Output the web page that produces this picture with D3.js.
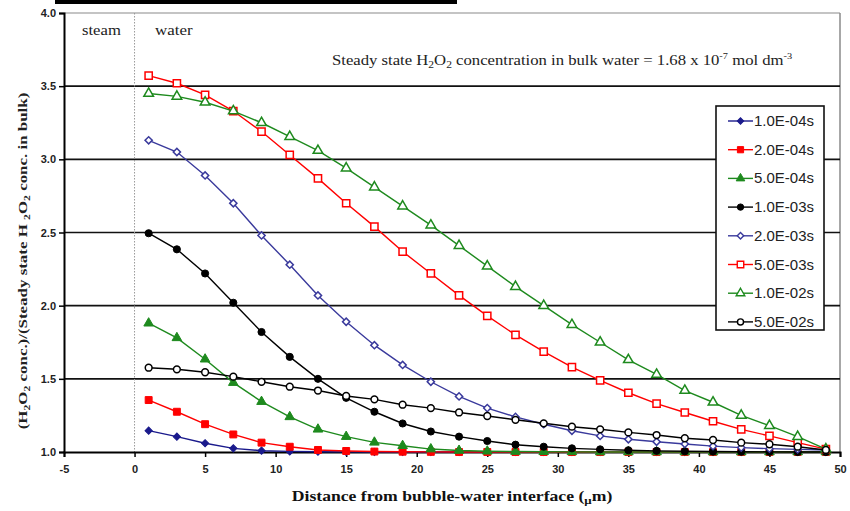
<!DOCTYPE html>
<html>
<head>
<meta charset="utf-8">
<script src="https://cdn.jsdelivr.net/npm/d3@7"></script>
<style>
  html, body { margin: 0; padding: 0; background: #fff; }
  svg { display: block; }
</style>
</head>
<body>
<svg id="chart" width="850" height="511"></svg>
<script>
// Distance from the bubble-water interface (µm), sampled every 2 µm
const distances = [1, 3, 5, 7, 9, 11, 13, 15, 17, 19, 21, 23, 25, 27, 29, 31, 33, 35, 37, 39, 41, 43, 45, 47, 49];

// Normalised H2O2 concentration profiles, one per elapsed time
const s1e4 = [1.146, 1.105, 1.060, 1.025, 1.009, 1.004, 1.002, 1.001, 1.0, 1.0, 1.0, 1.0, 1.0, 1.0, 1.0, 1.0, 1.0, 1.0, 1.0, 1.0, 1.0, 1.0, 1.0, 1.0, 1.0];
const s2e4 = [1.355, 1.275, 1.190, 1.120, 1.064, 1.036, 1.014, 1.007, 1.003, 1.002, 1.001, 1.0, 1.0, 1.0, 1.0, 1.0, 1.0, 1.0, 1.0, 1.0, 1.0, 1.0, 1.0, 1.0, 1.0];
const s5e4 = [1.880, 1.780, 1.634, 1.474, 1.344, 1.240, 1.155, 1.105, 1.066, 1.043, 1.020, 1.010, 1.005, 1.003, 1.002, 1.001, 1.0, 1.0, 1.0, 1.0, 1.0, 1.0, 1.0, 1.0, 1.0];
const s1e3 = [2.495, 2.385, 2.220, 2.020, 1.820, 1.650, 1.500, 1.370, 1.275, 1.195, 1.140, 1.105, 1.075, 1.050, 1.036, 1.025, 1.018, 1.012, 1.008, 1.005, 1.003, 1.002, 1.001, 1.0, 1.0];
const s2e3 = [3.130, 3.050, 2.890, 2.700, 2.480, 2.280, 2.070, 1.890, 1.730, 1.595, 1.480, 1.380, 1.300, 1.240, 1.190, 1.145, 1.110, 1.087, 1.070, 1.055, 1.040, 1.030, 1.023, 1.018, 1.014];
const s5e3 = [3.572, 3.520, 3.440, 3.330, 3.190, 3.030, 2.870, 2.700, 2.540, 2.370, 2.220, 2.070, 1.930, 1.800, 1.686, 1.580, 1.490, 1.405, 1.330, 1.270, 1.210, 1.155, 1.110, 1.064, 1.020];
const s1e2 = [3.450, 3.430, 3.390, 3.330, 3.250, 3.155, 3.060, 2.940, 2.810, 2.680, 2.550, 2.410, 2.270, 2.130, 2.000, 1.870, 1.750, 1.630, 1.530, 1.420, 1.340, 1.250, 1.180, 1.105, 1.020];
const s5e2 = [1.576, 1.565, 1.545, 1.515, 1.480, 1.446, 1.420, 1.383, 1.360, 1.323, 1.300, 1.270, 1.246, 1.220, 1.196, 1.173, 1.155, 1.134, 1.116, 1.094, 1.082, 1.064, 1.053, 1.036, 1.014];

const seriesNames = ["1.0E-04s", "2.0E-04s", "5.0E-04s", "1.0E-03s", "2.0E-03s", "5.0E-03s", "1.0E-02s", "5.0E-02s"];
const seriesValues = [s1e4, s2e4, s5e4, s1e3, s2e3, s5e3, s1e2, s5e2];

const xTicks = [-5, 0, 5, 10, 15, 20, 25, 30, 35, 40, 45, 50];
const yTicks = [1.0, 1.5, 2.0, 2.5, 3.0, 3.5, 4.0];

// Diamonds are drawn as squares turned by 45 degrees
const styles = [
  { color: "#1a1a8c", shape: d3.symbolSquare,  size: 26, rot: 45, open: false },
  { color: "#ff0000", shape: d3.symbolSquare,  size: 48, rot: 0,  open: false },
  { color: "#1e8a1e", shape: d3.symbolTriangle, size: 40, rot: 0, open: false },
  { color: "#000000", shape: d3.symbolCircle,  size: 40, rot: 0,  open: false },
  { color: "#3a3a9c", shape: d3.symbolSquare,  size: 26, rot: 45, open: true },
  { color: "#ff0000", shape: d3.symbolSquare,  size: 52, rot: 0,  open: true },
  { color: "#1e8a1e", shape: d3.symbolTriangle, size: 40, rot: 0, open: true },
  { color: "#000000", shape: d3.symbolCircle,  size: 36, rot: 0,  open: true }
];

const svg = d3.select("#chart");
const plot = { left: 64, right: 840, top: 13, bottom: 452 };

const x = d3.scaleLinear().domain([-5, 50]).range([plot.left, plot.right]);
const y = d3.scaleLinear().domain([1, 4]).range([plot.bottom, plot.top]);

// Stretch a text element horizontally so it spans the given width
function fitWidth(sel, width, base) {
  const w = sel.node().getBBox().width;
  sel.attr("transform", `${base} scale(${width / w},1)`);
}

// Caption rule along the top edge
svg.append("rect").attr("x", 55).attr("y", 0).attr("width", 402).attr("height", 4).attr("fill", "#000");

// Plot frame (top and right) in grey
svg.append("line").attr("x1", plot.left).attr("x2", plot.right).attr("y1", plot.top).attr("y2", plot.top)
  .attr("stroke", "#8a8a8a").attr("stroke-width", 1.2);
svg.append("line").attr("x1", plot.right).attr("x2", plot.right).attr("y1", plot.top).attr("y2", plot.bottom)
  .attr("stroke", "#8a8a8a").attr("stroke-width", 1.5);

// Horizontal gridlines
svg.append("g").selectAll("line")
  .data(yTicks.filter(t => t > 1 && t < 4))
  .join("line")
  .attr("x1", plot.left).attr("x2", plot.right)
  .attr("y1", d => y(d)).attr("y2", d => y(d))
  .attr("stroke", "#111").attr("stroke-width", 1.6);

// Steam / water boundary
svg.append("line").attr("x1", x(0)).attr("x2", x(0)).attr("y1", plot.top).attr("y2", plot.bottom)
  .attr("stroke", "#999").attr("stroke-width", 1).attr("stroke-dasharray", "1.5,1.5");

// Axes
const yAxis = d3.axisLeft(y).tickValues(yTicks).tickFormat(d3.format(".1f")).tickSize(5).tickPadding(3);
const xAxis = d3.axisBottom(x).tickValues(xTicks).tickFormat(d => String(d)).tickSize(5).tickPadding(8);

const gy = svg.append("g").attr("transform", `translate(${plot.left},0)`).call(yAxis);
const gx = svg.append("g").attr("transform", `translate(0,${plot.bottom})`).call(xAxis);
[gx, gy].forEach(g => {
  g.select(".domain").attr("stroke", "#000").attr("stroke-width", 2);
  g.selectAll(".tick line").attr("stroke", "#000").attr("stroke-width", 1.5);
  g.selectAll(".tick text").attr("fill", "#222")
    .style("font-family", "'Liberation Sans Narrow', 'Liberation Sans', Arial, sans-serif")
    .style("font-size", "11px").style("font-weight", "bold");
});

// Series lines and markers
const line = d3.line().x((d, i) => x(distances[i])).y(d => y(d));
seriesValues.forEach((vals, k) => {
  const st = styles[k];
  const g = svg.append("g");
  g.append("path").datum(vals).attr("d", line)
    .attr("fill", "none").attr("stroke", st.color).attr("stroke-width", 1.4);
  g.selectAll("path.m").data(vals).join("path").attr("class", "m")
    .attr("transform", (d, i) => `translate(${x(distances[i])},${y(d)}) rotate(${st.rot})`)
    .attr("d", d3.symbol().type(st.shape).size(st.size))
    .attr("fill", st.open ? "#fff" : st.color)
    .attr("stroke", st.color).attr("stroke-width", st.open ? 1.5 : 1);
});

// Region labels and bulk concentration note
const serif = "'Liberation Serif', 'Times New Roman', serif";
const steam = svg.append("text").attr("x", 0).attr("y", 0).text("steam")
  .style("font-family", serif).style("font-size", "14px").attr("fill", "#222");
fitWidth(steam, 39, "translate(82,35)");
const water = svg.append("text").attr("x", 0).attr("y", 0).text("water")
  .style("font-family", serif).style("font-size", "14px").attr("fill", "#222");
fitWidth(water, 38, "translate(155,35)");

const note = svg.append("text").attr("x", 0).attr("y", 0)
  .style("font-family", serif).style("font-size", "14.5px").attr("fill", "#222");
note.append("tspan").text("Steady state H");
note.append("tspan").text("2").attr("dy", 3).style("font-size", "10px");
note.append("tspan").text("O").attr("dy", -3);
note.append("tspan").text("2").attr("dy", 3).style("font-size", "10px");
note.append("tspan").text(" concentration in bulk water = 1.68 x 10").attr("dy", -3);
note.append("tspan").text("-7").attr("dy", -6).style("font-size", "9px");
note.append("tspan").text(" mol dm").attr("dy", 6);
note.append("tspan").text("-3").attr("dy", -6).style("font-size", "9px");
fitWidth(note, 461, "translate(332,65)");

// Axis titles
const xt = svg.append("text").attr("x", 0).attr("y", 0).attr("text-anchor", "middle")
  .style("font-family", serif).style("font-size", "15px").style("font-weight", "bold").attr("fill", "#111");
xt.append("tspan").text("Distance from bubble-water interface (");
xt.append("tspan").text("μ").attr("dy", 3).style("font-size", "11px");
xt.append("tspan").text("m)").attr("dy", -3);
fitWidth(xt, 321, "translate(452,501)");

const yt = svg.append("text").attr("x", 0).attr("y", 0).attr("text-anchor", "middle")
  .style("font-family", serif).style("font-size", "13px").style("font-weight", "bold").attr("fill", "#222");
yt.append("tspan").text("(H");
yt.append("tspan").text("2").attr("dy", 3).style("font-size", "9px");
yt.append("tspan").text("O").attr("dy", -3);
yt.append("tspan").text("2").attr("dy", 3).style("font-size", "9px");
yt.append("tspan").text(" conc.)/(Steady state H  ").attr("dy", -3);
yt.append("tspan").text("2").attr("dy", 3).style("font-size", "9px");
yt.append("tspan").text("O").attr("dy", -3);
yt.append("tspan").text("2").attr("dy", 3).style("font-size", "9px");
yt.append("tspan").text(" conc. in bulk)").attr("dy", -3);
fitWidth(yt, 337, "translate(27,261) rotate(-90)");

// Legend
const lg = svg.append("g").attr("transform", "translate(716,106)");
lg.append("rect").attr("width", 108).attr("height", 224)
  .attr("fill", "#fff").attr("stroke", "#111").attr("stroke-width", 1.6);
seriesNames.forEach((name, k) => {
  const st = styles[k];
  const yy = 15 + k * 28.7;
  lg.append("line").attr("x1", 12).attr("x2", 37).attr("y1", yy).attr("y2", yy)
    .attr("stroke", st.color).attr("stroke-width", 1.4);
  lg.append("path").attr("transform", `translate(24.5,${yy}) rotate(${st.rot})`)
    .attr("d", d3.symbol().type(st.shape).size(st.size * 0.8))
    .attr("fill", st.open ? "#fff" : st.color)
    .attr("stroke", st.color).attr("stroke-width", st.open ? 1.4 : 1);
  const t = lg.append("text").attr("x", 0).attr("y", 0).text(name)
    .style("font-family", "'Liberation Sans', Arial, sans-serif").style("font-size", "14px").attr("fill", "#222");
  fitWidth(t, 60, `translate(38,${yy + 5})`);
});
</script>
</body>
</html>
